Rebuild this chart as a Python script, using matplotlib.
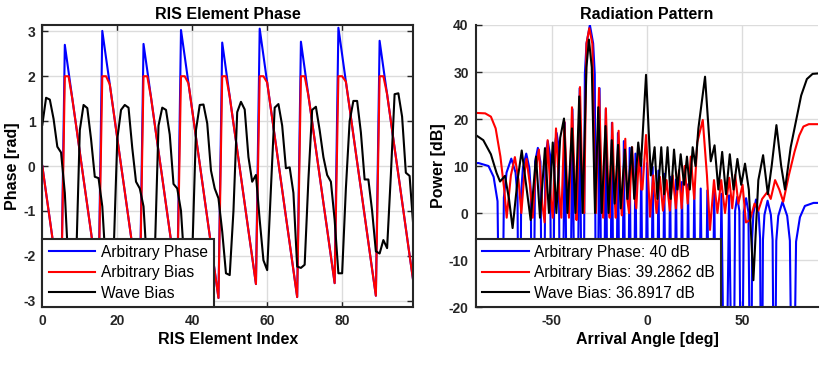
import matplotlib
matplotlib.use("Agg")
import matplotlib.pyplot as plt
import numpy as np

plt.rcParams['font.family'] = ['Liberation Sans', 'DejaVu Sans']
plt.rcParams['axes.unicode_minus'] = False

# ---------------- data: left panel (phase per RIS element) ----------------
element_index = list(range(100))

arbitrary_phase = [
    0.00, -0.60, -1.19, -1.79, -2.39, -2.99, 2.70, 2.10, 1.50, 0.91,
    0.31, -0.29, -0.88, -1.48, -2.08, -2.68, 3.01, 2.41, 1.82, 1.22,
    0.62, 0.02, -0.57, -1.17, -1.77, -2.37, -2.96, 2.72, 2.13, 1.53,
    0.93, 0.33, -0.26, -0.86, -1.46, -2.06, -2.65, 3.03, 2.44, 1.84,
    1.24, 0.64, 0.05, -0.55, -1.15, -1.75, -2.34, -2.94, 2.75, 2.15,
    1.55, 0.95, 0.36, -0.24, -0.84, -1.44, -2.03, -2.63, 3.06, 2.46,
    1.86, 1.26, 0.67, 0.07, -0.53, -1.13, -1.72, -2.32, -2.92, 2.77,
    2.17, 1.57, 0.98, 0.38, -0.22, -0.82, -1.41, -2.01, -2.61, 3.08,
    2.48, 1.88, 1.29, 0.69, 0.09, -0.50, -1.10, -1.70, -2.30, -2.89,
    2.79, 2.19, 1.60, 1.00, 0.40, -0.19, -0.79, -1.39, -1.99, -2.58,
]

arbitrary_bias = [
    0.00, -0.60, -1.19, -1.79, -2.39, -2.99, 2.00, 2.00, 1.50, 0.91,
    0.31, -0.29, -0.88, -1.48, -2.08, -2.68, 2.00, 2.00, 1.82, 1.22,
    0.62, 0.02, -0.57, -1.17, -1.77, -2.37, -2.96, 2.00, 2.00, 1.53,
    0.93, 0.33, -0.26, -0.86, -1.46, -2.06, -2.65, 2.00, 2.00, 1.84,
    1.24, 0.64, 0.05, -0.55, -1.15, -1.75, -2.34, -2.94, 2.00, 2.00,
    1.55, 0.95, 0.36, -0.24, -0.84, -1.44, -2.03, -2.63, 2.00, 2.00,
    1.86, 1.26, 0.67, 0.07, -0.53, -1.13, -1.72, -2.32, -2.92, 2.00,
    2.00, 1.57, 0.98, 0.38, -0.22, -0.82, -1.41, -2.01, -2.61, 2.00,
    2.00, 1.88, 1.29, 0.69, 0.09, -0.50, -1.10, -1.70, -2.30, -2.89,
    2.00, 2.00, 1.60, 1.00, 0.40, -0.19, -0.79, -1.39, -1.99, -2.58,
]

wave_bias = [
    0.92, 1.52, 1.48, 1.05, 0.43, 0.30, -0.60, -2.30, -2.45, -2.20,
    0.80, 1.36, 1.29, 0.60, -0.24, -0.27, -0.90, -2.30, -2.45, -2.00,
    0.60, 1.25, 1.36, 1.30, 0.40, -0.35, -0.50, -0.90, -2.30, -2.40,
    -2.00, 0.90, 1.30, 1.25, 0.70, -0.40, -0.50, -1.00, -2.30, -2.40,
    -2.00, 0.80, 1.36, 1.37, 0.95, -0.10, -0.50, -0.72, -1.46, -2.39,
    -2.43, -1.00, 1.20, 1.43, 1.26, 0.20, -0.35, -0.20, -1.20, -2.10,
    -2.32, -0.50, 1.30, 1.38, 0.90, -0.05, -0.03, -0.60, -2.24, -2.27,
    -2.20, -0.30, 1.25, 1.32, 0.80, 0.20, -0.20, -0.35, -1.20, -2.39,
    -2.39, -0.50, 1.00, 1.45, 1.45, 0.75, -0.30, -0.30, -1.00, -1.90,
    -1.95, -1.65, -1.83, -0.20, 1.60, 1.62, 1.10, -0.15, -0.22, -1.35,
]

phase_labels = ['Arbitrary Phase', 'Arbitrary Bias', 'Wave Bias']

# ---------------- data: right panel (radiation pattern) ----------------
ap_angle = [-90, -88.5, -83.26, -80.58, -78.51, -76.75, -75.19, -73.78, -71.29, -69.05,
            -68.01, -67.02, -66.10, -65.20, -63.43, -61.81, -61.01, -60.24, -58.77, -57.33,
            -55.97, -54.65, -53.36, -52.12, -50.91, -49.73, -48.58, -47.45, -46.35, -45.27,
            -43.16, -41.13, -39.16, -37.24, -35.37, -33.55, -32.65, -31.76, -30.0, -28.28,
            -27.42, -26.58, -24.90, -23.26, -21.62, -20.01, -18.42, -16.84, -15.27, -13.71,
            -12.16, -10.63, -9.10, -7.57, -6.06, -4.54, -3.03, -1.53, -0.02, 1.49,
            3.00, 4.51, 6.02, 7.54, 9.06, 10.59, 12.13, 13.67, 15.23, 16.80,
            18.38, 19.97, 21.58, 23.21, 24.86, 26.54, 28.23, 29.96, 31.71, 33.50,
            35.33, 37.19, 39.11, 41.08, 43.12, 45.21, 46.29, 47.40, 48.52, 49.67,
            50.85, 52.06, 53.30, 54.58, 55.24, 55.90, 57.27, 58.68, 59.42, 60.17,
            60.93, 61.72, 63.36, 65.08, 66.00, 66.93, 67.93, 68.97, 71.17, 73.66,
            75.07, 76.60, 78.32, 80.35, 82.95, 87.5, 90]
ap_db = [10.6, 10.63, 10.0, 7.7, 2.5, -60, 3.3, 8.6, 11.57, 8.6,
         3.3, -60, 4.3, 9.6, 12.64, 9.6, 4.3, -60, 10.9, 13.86,
         10.9, -60, 12.3, 15.29, 12.3, -60, 14.0, 17.02, 14.0, -60,
         19.19, -60, 22.11, -60, 26.54, -60, 29.5, 36.1, 40.0, 36.1,
         29.5, -60, 26.54, -60, 22.11, -60, 19.19, -60, 17.02, -60,
         15.29, -60, 13.86, -60, 12.64, -60, 11.57, -60, 10.63, -60,
         9.79, -60, 9.03, -60, 8.34, -60, 7.71, -60, 7.13, -60,
         6.60, -60, 6.10, -60, 5.64, -60, 5.21, -60, 4.81, -60,
         4.43, -60, 4.08, -60, 3.75, -60, 0.44, 3.44, 0.44, -60,
         0.15, 3.15, 0.15, -60, -5.4, -0.12, 2.88, -0.12, -5.4, -60,
         -5.7, -0.38, 2.62, -0.38, -5.7, -60, -5.9, -0.62, 2.38, -0.62,
         -5.9, -60, -6.1, -0.9, 1.5, 2.15, 2.15]

ab_angle = [-90, -85, -82, -79.5, -77, -75, -73.7, -71.5, -69.4, -67.5, -66, -64.5, -63.3,
            -61.5, -60, -58.5, -56.8, -55, -53.8, -52.2, -50.5, -49.5, -47.8, -46, -45,
            -43.4, -41.8, -41, -39.4, -37.6, -37, -35.2, -33.8, -33, -31.8, -30.3, -28.7,
            -27.3, -26.8, -25.2, -23.6, -23, -21.6, -20.2, -19.6, -18.2, -17, -16.4, -14.9,
            -13.8, -13.2, -11.4, -10.4, -9.4, -7.8, -6.6, -5.6, -4.2, -3.0, -2.4, -0.5,
            1.6, 3.3, 5.0, 6.8, 8.4, 10.3, 12.0, 13.5, 15.2, 16.8, 18.2, 19.8, 21.4, 23.0,
            24.8, 26.4, 29.3, 31.5, 33.1, 35.2, 37.0, 39.0, 41.0, 43.2, 44.8, 46.3, 48.0,
            50.2, 52.0, 54.1, 56.5, 58.5, 60.5, 63.3, 65.0, 67.3, 69.5, 71.6, 74.5, 77.5,
            80.0, 82.2, 85.0, 90]
ab_db = [21.3, 21.2, 20.5, 18.0, 12.0, 5.0, -1.0, 8.0, 11.9, 7.0, 0.0, 8.0, 11.5,
         6.0, -1.0, 9.0, 13.5, 2.0, -2.0, 15.5, 3.0, -1.0, 18.0, 4.0, -1.0,
         19.5, 4.0, -1.0, 22.5, 3.0, -1.5, 26.8, 3.0, 0.0, 36.0, 39.3, 36.0,
         3.0, 0.0, 26.6, 3.0, -1.0, 22.3, 3.0, -1.0, 19.2, 3.0, -1.0, 17.5,
         3.0, -0.5, 15.8, 3.0, 0.0, 14.0, 4.0, 1.0, 13.0, 5.0, 5.0, 16.6,
         -0.8, 8.0, 0.0, 7.7, 0.5, 7.0, 0.5, 8.0, 1.0, 9.1, 1.0, 10.0, 2.0,
         12.0, 3.0, 15.0, 19.8, 8.0, -3.6, 7.0, 0.0, 7.0, 0.0, 7.5, 1.0, 8.1, 2.0,
         6.0, -2.0, -1.5, 2.0, 0.5, 3.0, 4.5, 3.0, 7.0, 5.0, 2.4, 8.0, 13.0,
         16.5, 18.4, 18.9, 18.9]

wb_angle = [-90, -86, -82, -79, -77.2, -74.6, -72.5, -70.6, -68, -65.8, -63.5, -61.1,
            -58.3, -56.2, -53.6, -51.5, -49.5, -47.6, -45.6, -43.6, -41.8, -39.4, -37.6,
            -35.6, -33.8, -31.8, -30.5, -29.0, -27.3, -25.6, -23.8, -21.8, -20.2, -18.5,
            -17.0, -15.2, -13.8, -11.6, -10.3, -8.0, -6.7, -4.6, -3.2, -0.5, 2.0, 4.0, 5.5,
            7.5, 9.0, 10.8, 12.5, 14.2, 16.0, 17.7, 19.5, 21.0, 22.5, 24.0, 25.5, 27.0,
            30.5, 33.5, 35.5, 37.5, 39.5, 41.5, 43.5, 45.5, 47.5, 49.5, 51.5, 53.5, 55.9,
            58.5, 61.0, 63.5, 65.5, 68.0, 70.5, 72.5, 75.5, 78.5, 81.0, 84.0, 87.0, 90]
wb_db = [16.6, 15.5, 12.5, 8.5, 6.7, 7.9, 3.0, -3.2, 7.0, 13.3, 6.0, -1.5,
         12.0, -1.0, 13.8, 0.0, 15.0, 0.0, 16.0, 20.1, 0.0, 18.0, 0.0,
         24.8, 0.0, 31.0, 36.9, 31.0, 0.0, 22.5, 0.0, 18.5, 0.0, 15.5,
         2.0, 14.5, 1.0, 13.5, 3.0, 14.0, 3.0, 15.0, 10.0, 29.4, 8.0, 14.0, 3.0,
         14.0, 4.0, 14.0, 3.0, 13.5, 5.0, 12.5, 6.0, 12.0, 5.0, 14.0, 10.0, 18.0,
         29.0, 11.0, 14.4, 5.0, 13.0, 4.0, 12.5, 5.0, 11.5, 6.0, 10.5, 5.0, -14.3,
         7.0, 12.3, 4.0, 10.0, 18.7, 10.0, 5.0, 14.0, 20.0, 25.0, 28.5, 29.6, 29.7]

pattern_labels = ['Arbitrary Phase: 40 dB', 'Arbitrary Bias: 39.2862 dB',
                  'Wave Bias: 36.8917 dB']

colors = ['#0000ff', '#ff0000', '#000000']

# ---------------- figure ----------------
fig = plt.figure(figsize=(8.30, 3.72), dpi=100)
ax1 = fig.add_axes([0.0510, 0.1747, 0.4470, 0.7581])
ax2 = fig.add_axes([0.5731, 0.1747, 0.4128, 0.7581])

spine_c = '#262626'
grid_c = '#dcdcdc'
lw = 1.5

for ax in (ax1, ax2):
    ax.set_axisbelow(True)
    ax.grid(True, color=grid_c, linewidth=1.0)
    ax.tick_params(direction='in', length=4, width=1.0, colors=spine_c,
                   labelsize=10, labelcolor='#262626', pad=5)

# left panel
for ser, c, lab in zip([arbitrary_phase, arbitrary_bias, wave_bias], colors, phase_labels):
    ax1.plot(element_index, ser, color=c, linewidth=lw, label=lab)
ax1.set_xlim(0, 99)
ax1.set_ylim(-np.pi, np.pi)
ax1.set_xticks([0, 20, 40, 60, 80])
ax1.set_yticks([-3, -2, -1, 0, 1, 2, 3])
ax1.tick_params(top=True, right=True)
for s in ax1.spines.values():
    s.set_color(spine_c)
    s.set_linewidth(1.5)
ax1.set_title('RIS Element Phase', fontsize=11.5, fontweight='bold', pad=4)
ax1.set_xlabel('RIS Element Index', fontsize=11.5, fontweight='bold', labelpad=3)
ax1.set_ylabel('Phase [rad]', fontsize=11.5, fontweight='bold', labelpad=2)

# right panel
for (a, d), c, lab in zip([(ap_angle, ap_db), (ab_angle, ab_db), (wb_angle, wb_db)],
                          colors, pattern_labels):
    ax2.plot(a, d, color=c, linewidth=lw, label=lab)
ax2.set_xlim(-90, 90)
ax2.set_ylim(-20, 40)
ax2.set_xticks([-50, 0, 50])
ax2.set_yticks([-20, -10, 0, 10, 20, 30, 40])
ax2.spines['top'].set_visible(False)
ax2.spines['right'].set_visible(False)
for s in ('left', 'bottom'):
    ax2.spines[s].set_color(spine_c)
    ax2.spines[s].set_linewidth(1.5)
ax2.set_title('Radiation Pattern', fontsize=11.5, fontweight='bold', pad=4)
ax2.set_xlabel('Arrival Angle [deg]', fontsize=11.5, fontweight='bold', labelpad=3)
ax2.set_ylabel('Power [dB]', fontsize=11.5, fontweight='bold', labelpad=2)

for ax in (ax1, ax2):
    for lab in ax.get_xticklabels() + ax.get_yticklabels():
        lab.set_fontweight('bold')
    leg = ax.legend(loc='lower left', bbox_to_anchor=(0, 0), borderaxespad=0,
                    fontsize=11.2, handlelength=3.0, handletextpad=0.35,
                    borderpad=0.4, labelspacing=0.35, fancybox=False,
                    framealpha=1, edgecolor='#262626')
    leg.get_frame().set_linewidth(1.5)

fig.savefig('out.png', dpi=100)
